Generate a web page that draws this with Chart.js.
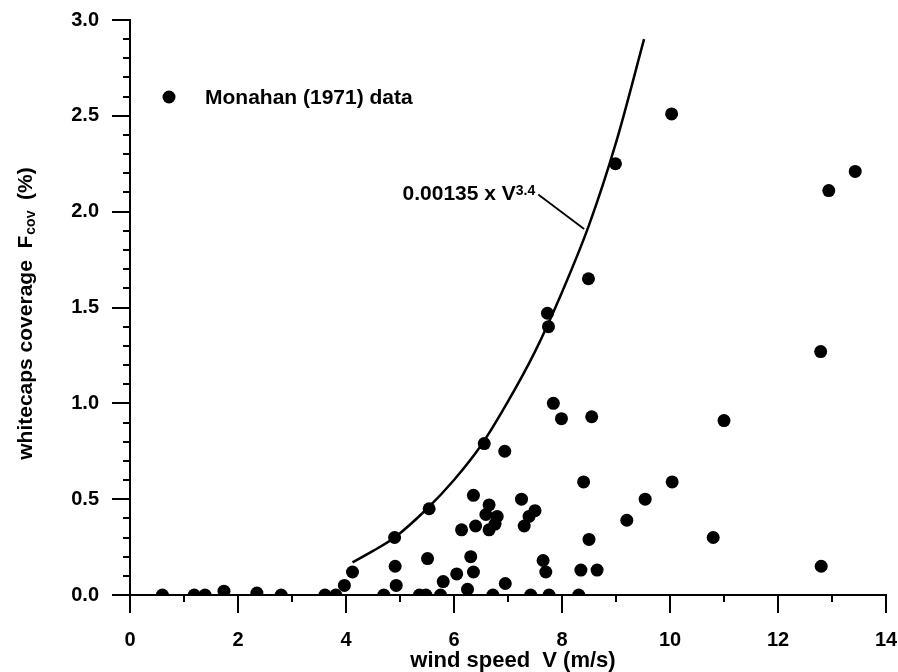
<!DOCTYPE html>
<html>
<head>
<meta charset="utf-8">
<script src="https://cdn.jsdelivr.net/npm/chart.js@4"></script>
<style>
  html, body { margin: 0; padding: 0; background: #fff; }
  #wrap { width: 898px; height: 672px; }
</style>
</head>
<body>
<div id="wrap"><canvas id="c" width="898" height="672"></canvas></div>
<script>
// ---- data ----
const windSpeed = [
  0.60, 1.19, 1.39, 2.80, 3.61, 3.81, 4.70, 5.36, 5.48, 5.75, 6.72, 7.42, 7.76, 8.31,
  1.74, 2.35, 3.97, 4.12, 4.93, 5.80, 6.25, 6.95,
  4.91, 5.51, 6.31, 7.65, 6.36, 6.05, 7.70, 8.35, 8.65, 12.80,
  4.90, 5.54, 6.56, 6.94, 8.40, 10.04, 6.36, 6.65, 7.25, 9.54, 7.50, 7.39, 6.59, 6.80,
  6.76, 6.65, 6.40, 6.14, 7.30, 9.20, 8.50, 10.80,
  10.03, 8.99, 13.43, 12.94, 8.49, 7.73, 7.75, 12.79, 7.84, 7.99, 8.55, 11.00
];
const coverage = [
  0, 0, 0, 0, 0, 0, 0, 0, 0, 0, 0, 0, 0, 0,
  0.02, 0.01, 0.05, 0.12, 0.05, 0.07, 0.03, 0.06,
  0.15, 0.19, 0.20, 0.18, 0.12, 0.11, 0.12, 0.13, 0.13, 0.15,
  0.30, 0.45, 0.79, 0.75, 0.59, 0.59, 0.52, 0.47, 0.50, 0.50, 0.44, 0.41, 0.42, 0.41,
  0.37, 0.34, 0.36, 0.34, 0.36, 0.39, 0.29, 0.30,
  2.51, 2.25, 2.21, 2.11, 1.65, 1.47, 1.40, 1.27, 1.00, 0.92, 0.93, 0.91
];
// fitted curve
const fitSpeed    = [4.12, 4.5, 4.9, 5.5, 6.0, 6.5, 7.0, 7.5, 8.0, 8.5, 9.0, 9.52];
const fitCoverage = [0.17, 0.23, 0.30, 0.45, 0.60, 0.78, 1.01, 1.27, 1.58, 1.93, 2.36, 2.90];
// label leader line (data coordinates)
const leaderSpeed    = [7.56, 8.41];
const leaderCoverage = [2.09, 1.91];

const legendLabel = "Monahan (1971) data";
const fitLabel = "0.00135 x V";
const fitExponent = "3.4";
const xTitle = "wind speed  V (m/s)";
const yTitleMain = "whitecaps coverage  F";
const yTitleSub = "cov";
const yTitleEnd = "  (%)";

const xMinorTicks = [1, 3, 5, 7, 9, 11, 13];
const yMinorTicks = [0.1,0.2,0.3,0.4,0.6,0.7,0.8,0.9,1.1,1.2,1.3,1.4,1.6,1.7,1.8,1.9,2.1,2.2,2.3,2.4,2.6,2.7,2.8,2.9];

const FONT = "'Liberation Sans', Arial, Helvetica, sans-serif";

const pts = windSpeed.map((v, i) => ({ x: v, y: coverage[i] }));
const fitPts = fitSpeed.map((v, i) => ({ x: v, y: fitCoverage[i] }));
const leaderPts = leaderSpeed.map((v, i) => ({ x: v, y: leaderCoverage[i] }));

const decor = {
  id: 'decor',
  afterDraw(chart) {
    const ctx = chart.ctx;
    const xs = chart.scales.x, ys = chart.scales.y;
    const area = chart.chartArea;
    ctx.save();
    ctx.strokeStyle = '#000';
    ctx.lineWidth = 2;
    // minor ticks
    ctx.beginPath();
    xMinorTicks.forEach(v => {
      const px = Math.round(xs.getPixelForValue(v));
      ctx.moveTo(px, area.bottom); ctx.lineTo(px, area.bottom + 7);
    });
    yMinorTicks.forEach(v => {
      const py = Math.round(ys.getPixelForValue(v));
      ctx.moveTo(area.left, py); ctx.lineTo(area.left - 7, py);
    });
    ctx.stroke();

    ctx.fillStyle = '#000';
    // legend
    ctx.beginPath();
    ctx.arc(169, 97, 6.5, 0, Math.PI * 2);
    ctx.fill();
    ctx.font = "bold 21px " + FONT;
    ctx.textBaseline = 'middle';
    ctx.textAlign = 'left';
    ctx.fillText(legendLabel, 205, 98);

    // fit label, right-aligned to leader start
    const lx = xs.getPixelForValue(leaderSpeed[0]) - 3;
    const ly = ys.getPixelForValue(leaderCoverage[0]) + 6;
    ctx.textBaseline = 'alphabetic';
    ctx.font = "bold 14px " + FONT;
    const expW = ctx.measureText(fitExponent).width;
    ctx.textAlign = 'right';
    ctx.fillText(fitExponent, lx, ly - 5);
    ctx.font = "bold 21px " + FONT;
    ctx.fillText(fitLabel, lx - expW, ly);

    // x title
    ctx.textAlign = 'center';
    ctx.textBaseline = 'middle';
    ctx.font = "bold 22px " + FONT;
    ctx.fillText(xTitle, (area.left + area.right) / 2 + 5, 661);

    // y title (rotated)
    ctx.font = "bold 21px " + FONT;
    const w1 = ctx.measureText(yTitleMain).width;
    const w3 = ctx.measureText(yTitleEnd).width;
    ctx.font = "bold 14px " + FONT;
    const w2 = ctx.measureText(yTitleSub).width;
    const total = w1 + w2 + w3;
    const cy = (area.top + area.bottom) / 2 + 6;
    ctx.translate(32, cy);
    ctx.rotate(-Math.PI / 2);
    ctx.textAlign = 'left';
    ctx.textBaseline = 'alphabetic';
    let x0 = -total / 2;
    ctx.font = "bold 21px " + FONT;
    ctx.fillText(yTitleMain, x0, 0);
    x0 += w1;
    ctx.font = "bold 14px " + FONT;
    ctx.fillText(yTitleSub, x0 + 1, 3);
    x0 += w2;
    ctx.font = "bold 21px " + FONT;
    ctx.fillText(yTitleEnd, x0, 0);
    ctx.restore();
  }
};

new Chart(document.getElementById('c'), {
  type: 'scatter',
  data: {
    datasets: [
      {
        label: legendLabel,
        data: pts,
        backgroundColor: '#000',
        borderWidth: 0,
        pointRadius: 6.5,
        pointHoverRadius: 6.5,
        order: 1
      },
      {
        label: 'fit',
        data: fitPts,
        showLine: true,
        borderColor: '#000',
        borderWidth: 2.5,
        pointRadius: 0,
        cubicInterpolationMode: 'monotone',
        fill: false,
        order: 2
      },
      {
        label: 'leader',
        data: leaderPts,
        showLine: true,
        borderColor: '#000',
        borderWidth: 1.8,
        pointRadius: 0,
        fill: false,
        order: 3
      }
    ]
  },
  options: {
    responsive: false,
    animation: false,
    devicePixelRatio: 1,
    layout: { padding: { top: 20, right: 12, left: 0, bottom: 0 } },
    plugins: { legend: { display: false }, tooltip: { enabled: false } },
    scales: {
      x: {
        type: 'linear',
        min: 0, max: 14,
        afterFit(s) { s.height = 77; s.paddingLeft = 0; s.paddingRight = 0; },
        border: { display: true, color: '#000', width: 2 },
        grid: { drawOnChartArea: false, drawTicks: true, tickLength: 18, color: '#000', lineWidth: 2, tickColor: '#000', tickWidth: 2 },
        ticks: { stepSize: 2, color: '#000', padding: 15, font: { family: FONT, size: 20, weight: 'bold' }, maxRotation: 0 }
      },
      y: {
        type: 'linear',
        min: 0, max: 3,
        afterFit(s) { s.width = 130; s.paddingTop = 0; s.paddingBottom = 0; },
        border: { display: true, color: '#000', width: 2 },
        grid: { drawOnChartArea: false, drawTicks: true, tickLength: 18, color: '#000', lineWidth: 2, tickColor: '#000', tickWidth: 2 },
        ticks: { stepSize: 0.5, color: '#000', padding: 13, font: { family: FONT, size: 20, weight: 'bold' }, callback: v => Number(v).toFixed(1) }
      }
    }
  },
  plugins: [decor]
});
</script>
</body>
</html>
